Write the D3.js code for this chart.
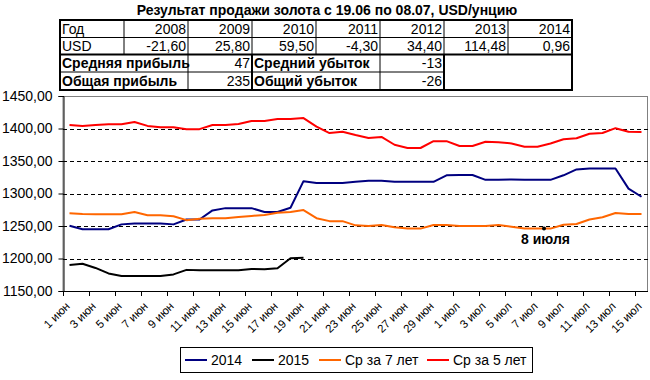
<!doctype html>
<html>
<head>
<meta charset="UTF-8">
<title>Gold</title>
<script src="https://cdn.jsdelivr.net/npm/d3@7"></script>
<style>
  body { margin: 0; background: #fff; }
  svg { display: block; font-family: "Liberation Sans", Arial, sans-serif; }
</style>
</head>
<body>
<script>
// --- data ---
var days = [];
for (var d = 1; d <= 30; d++) days.push(d + " июн");
for (var d = 1; d <= 15; d++) days.push(d + " июл");

var y2014 = [1250.5,1245,1245,1245,1252.5,1254,1254,1254,1252.5,1260,1260,1274,1277.5,1277.5,1277.5,1271.5,1271.5,1278,1319,1316,1316,1316,1318,1319.5,1319.5,1318,1318,1318,1318,1328,1328.5,1328.5,1321,1321,1321.5,1321,1321,1321,1328,1337,1338.5,1338.5,1338.5,1307.5,1295];
var y2015 = [1190,1192,1185.5,1177,1173,1173,1173,1173,1175.5,1182.5,1182,1182,1182,1182,1184,1183.5,1185,1200.5,1201];
var avg7  = [1269.5,1268.5,1268,1268,1268,1271.5,1266.5,1266.5,1265,1259,1261,1262,1262,1264,1265.5,1267,1270.5,1271.5,1274.5,1262,1257.5,1257.5,1251,1250,1251.5,1248,1246,1246,1251.5,1251.5,1250,1250,1250,1251.5,1249,1246,1246,1246,1252,1253,1260,1263.5,1270,1268.5,1268.5];
var avg5  = [1405.5,1404,1405.5,1406.5,1406.5,1410,1404,1402,1402,1399,1399,1405.5,1405.5,1407,1411.5,1411.5,1414.5,1414.5,1416,1403,1393,1395,1390,1385.5,1387,1375,1370,1370,1380.5,1380.5,1373,1373,1379.5,1379,1377,1372,1372,1377,1383.5,1385,1392,1393,1400.5,1395,1394.5];

var seriesNames  = ["2014", "2015", "Ср за 7 лет", "Ср за 5 лет"];
var seriesColors = ["#000080", "#000000", "#FF6600", "#FF0000"];
var seriesData   = [y2014, y2015, avg7, avg5];

var years     = ["2008","2009","2010","2011","2012","2013","2014"];
var usdValues = ["-21,60","25,80","59,50","-4,30","34,40","114,48","0,96"];
var summary = [
  ["Средняя прибыль", "47", "Средний убыток", "-13"],
  ["Общая прибыль", "235", "Общий убыток", "-26"]
];
var yTicks = [1150,1200,1250,1300,1350,1400,1450];
var note = { day: "8 июл", value: 1246, label: "8 июля" };

(function() {
  var W = 650, H = 380;
  var svg = d3.select("body").append("svg").attr("width", W).attr("height", H);

  svg.append("text")
    .attr("x", 327).attr("y", 15)
    .attr("text-anchor", "middle")
    .attr("font-size", 14).attr("font-weight", "bold")
    .text("Результат продажи золота с 19.06 по 08.07, USD/унцию");

  // table
  var tx0 = 60, cw = 64;
  var rows = [20, 37.5, 54.5, 72, 90];
  var tab = svg.append("g");
  function line(x1, y1, x2, y2, w) {
    tab.append("line").attr("x1", x1).attr("y1", y1).attr("x2", x2).attr("y2", y2)
      .attr("stroke", "#000").attr("stroke-width", w);
  }
  function cellText(t, xx, yb, anchor, bold) {
    tab.append("text").attr("x", xx).attr("y", yb - 4)
      .attr("text-anchor", anchor)
      .attr("font-size", 14)
      .attr("font-weight", bold ? "bold" : "normal")
      .text(t);
  }
  var colX = d3.range(9).map(function(k) { return tx0 + cw * k; });
  cellText("Год", colX[0] + 2, rows[1], "start");
  cellText("USD", colX[0] + 2, rows[2], "start");
  years.forEach(function(yr, i) {
    cellText(yr, colX[i + 2] - 2, rows[1], "end");
    cellText(usdValues[i], colX[i + 2] - 2, rows[2], "end");
  });
  for (var k = 1; k < 8; k++) line(colX[k], rows[0], colX[k], rows[2], 1);
  line(colX[0], rows[1], colX[8], rows[1], 1);
  summary.forEach(function(r, j) {
    var yb = rows[j + 3];
    cellText(r[0], colX[0] + 2, yb, "start", true);
    cellText(r[1], colX[3] - 2, yb, "end");
    cellText(r[2], colX[3] + 2, yb, "start", true);
    cellText(r[3], colX[6] - 2, yb, "end");
  });
  line(colX[0], rows[3], colX[6], rows[3], 1);
  line(colX[2], rows[2], colX[2], rows[4], 1);
  line(colX[5], rows[2], colX[5], rows[4], 1);
  line(colX[3], rows[2], colX[3], rows[4], 2);
  line(colX[6], rows[2], colX[6], rows[4], 2);
  line(colX[0], rows[2], colX[8], rows[2], 2);
  tab.append("rect").attr("x", colX[0]).attr("y", rows[0])
    .attr("width", colX[8] - colX[0]).attr("height", rows[4] - rows[0])
    .attr("fill", "none").attr("stroke", "#000").attr("stroke-width", 2);

  // plot area
  var pl = 63, pr = 648, pt = 96, pb = 291;
  var x = d3.scaleBand().domain(days).range([pl, pr]).padding(0);
  var y = d3.scaleLinear().domain([1150, 1450]).range([pb, pt]);
  var xc = function(dd) { return x(dd) + x.bandwidth() / 2; };

  svg.append("rect").attr("x", pl).attr("y", pt + 0.5)
    .attr("width", pr - pl - 0.5).attr("height", pb - pt)
    .attr("fill", "#fff").attr("stroke", "#808080").attr("stroke-width", 1);

  svg.append("g").selectAll("line")
    .data(yTicks.filter(function(v) { return v > 1150 && v < 1450; }))
    .enter().append("line")
    .attr("x1", pl).attr("x2", pr)
    .attr("y1", function(v) { return Math.round(y(v)) + 0.5; })
    .attr("y2", function(v) { return Math.round(y(v)) + 0.5; })
    .attr("stroke", "#000").attr("stroke-dasharray", "4,3");

  // y axis
  var yAxis = svg.append("g").attr("transform", "translate(" + (pl + 0.5) + ",0)")
    .call(d3.axisLeft(y).tickValues(yTicks).tickSizeOuter(0).tickSize(5).tickPadding(6)
      .tickFormat(function(v) { return d3.format(".2f")(v).replace(".", ","); }));
  yAxis.selectAll("text").attr("font-size", 14)
    .attr("font-family", "Liberation Sans, Arial, sans-serif").attr("fill", "#000");
  yAxis.select(".domain").attr("stroke", "#000");

  // x axis
  var xg = svg.append("g");
  xg.append("line").attr("x1", pl).attr("x2", pr).attr("y1", pb + 0.5).attr("y2", pb + 0.5).attr("stroke", "#000");
  var tickDays = days.filter(function(dd, i) { return i % 2 === 0; });
  xg.selectAll(".tk").data(tickDays).enter().append("line")
    .attr("x1", function(dd) { return Math.round(x(dd)) + 0.5; })
    .attr("x2", function(dd) { return Math.round(x(dd)) + 0.5; })
    .attr("y1", pb).attr("y2", pb + 5).attr("stroke", "#000");
  xg.selectAll(".lb").data(tickDays).enter().append("text")
    .attr("transform", function(dd) { return "translate(" + (xc(dd) + 1) + "," + (pb + 16) + ") rotate(-45)"; })
    .attr("text-anchor", "end")
    .attr("font-size", 11.5)
    .text(function(dd) { return dd; });

  // lines
  var lineGen = d3.line()
    .x(function(v, i) { return xc(days[i]); })
    .y(function(v) { return y(v); });
  seriesData.forEach(function(s, i) {
    svg.append("path").datum(s)
      .attr("d", lineGen)
      .attr("fill", "none")
      .attr("stroke", seriesColors[i])
      .attr("stroke-width", 2)
      .attr("stroke-linejoin", "round");
  });

  // annotation
  svg.append("circle").attr("cx", x(note.day)).attr("cy", y(note.value)).attr("r", 2).attr("fill", "#000");
  svg.append("text").attr("x", x(note.day) - 23).attr("y", y(note.value) + 15)
    .attr("font-size", 14).attr("font-weight", "bold").text(note.label);

  // legend
  var lg = svg.append("g");
  lg.append("rect").attr("x", 180.5).attr("y", 347.5).attr("width", 352).attr("height", 25)
    .attr("fill", "#fff").attr("stroke", "#000");
  var legX = [185, 252, 319, 427];
  seriesNames.forEach(function(n, i) {
    lg.append("line").attr("x1", legX[i]).attr("x2", legX[i] + 22)
      .attr("y1", 360).attr("y2", 360)
      .attr("stroke", seriesColors[i]).attr("stroke-width", 2);
    lg.append("text").attr("x", legX[i] + 26).attr("y", 365)
      .attr("font-size", 14).text(n);
  });
})();
</script>
</body>
</html>
